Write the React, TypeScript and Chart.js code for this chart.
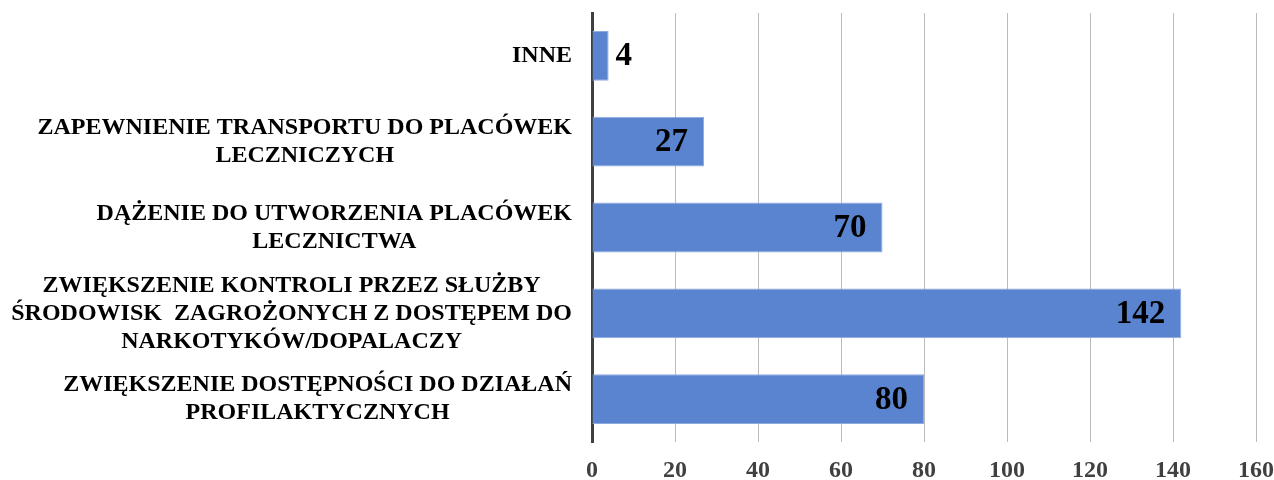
import React, { useEffect, useRef } from "react";
import { Chart, registerables } from "chart.js";

Chart.register(...registerables);

const categories: string[][] = [
  ["INNE"],
  ["ZAPEWNIENIE TRANSPORTU DO PLACÓWEK", "LECZNICZYCH"],
  ["DĄŻENIE DO UTWORZENIA PLACÓWEK", "LECZNICTWA"],
  ["ZWIĘKSZENIE KONTROLI PRZEZ SŁUŻBY", "ŚRODOWISK  ZAGROŻONYCH Z DOSTĘPEM DO", "NARKOTYKÓW/DOPALACZY"],
  ["ZWIĘKSZENIE DOSTĘPNOŚCI DO DZIAŁAŃ", "PROFILAKTYCZNYCH"],
];
const values: number[] = [4, 27, 70, 142, 80];
const xTicks: number[] = [0, 20, 40, 60, 80, 100, 120, 140, 160];

const SERIF = "'Liberation Serif', 'Times New Roman', serif";

const labelsPlugin = {
  id: "customLabels",
  afterDatasetsDraw(chart: any) {
    const ctx = chart.ctx;
    const yScale = chart.scales.y;
    const area = chart.chartArea;
    ctx.save();
    ctx.font = `bold 24px ${SERIF}`;
    ctx.fillStyle = "#000000";
    ctx.textBaseline = "middle";
    ctx.textAlign = "center";
    const lineH = 28;
    categories.forEach((lines, i) => {
      const yc = yScale.getPixelForTick(i);
      const maxW = Math.max(...lines.map((l) => ctx.measureText(l).width));
      const cx = area.left - 20 - maxW / 2;
      const y0 = yc - ((lines.length - 1) * lineH) / 2;
      lines.forEach((l, j) => ctx.fillText(l, cx, y0 + j * lineH));
    });
    ctx.font = `bold 33px ${SERIF}`;
    const meta = chart.getDatasetMeta(0);
    meta.data.forEach((bar: any, i: number) => {
      const txt = String(values[i]);
      const w = ctx.measureText(txt).width;
      const barW = bar.x - bar.base;
      if (barW > w + 24) {
        ctx.textAlign = "right";
        ctx.fillText(txt, bar.x - 16, bar.y + 1);
      } else {
        ctx.textAlign = "left";
        ctx.fillText(txt, bar.x + 7, bar.y + 1);
      }
    });
    ctx.restore();
  },
};

export default function App() {
  const ref = useRef<HTMLCanvasElement | null>(null);
  useEffect(() => {
    document.body.style.margin = "0";
    const chart = new Chart(ref.current!, {
      type: "bar",
      data: {
        labels: categories.map((c) => c.join(" ")),
        datasets: [
          {
            data: values,
            backgroundColor: "#5A84CF",
            borderColor: "#8EAADF",
            borderWidth: 1,
            categoryPercentage: 1,
            barPercentage: 0.58,
          },
        ],
      },
      options: {
        indexAxis: "y",
        animation: false,
        responsive: false,
        layout: { padding: { top: 13, right: 18, left: 0, bottom: 0 } },
        plugins: { legend: { display: false }, tooltip: { enabled: false } },
        scales: {
          x: {
            min: 0,
            max: 160,
            afterBuildTicks: (s: any) => {
              s.ticks = xTicks.map((v) => ({ value: v }));
            },
            afterFit: (s: any) => {
              s.height = 38;
              s.paddingRight = 0;
            },
            grid: { color: "#bcbcbc", lineWidth: 1, drawTicks: false },
            border: { display: false },
            ticks: {
              padding: 14,
              color: "#404040",
              font: { family: SERIF, size: 24, weight: "bold" },
            },
          },
          y: {
            afterFit: (s: any) => {
              s.width = 592;
            },
            grid: { display: false },
            border: { display: true, color: "#404040", width: 3 },
            ticks: { display: false },
          },
        },
      },
      plugins: [labelsPlugin],
    } as any);
    return () => chart.destroy();
  }, []);
  return (
    <div style={{ position: "absolute", left: 0, top: 0, width: 1274, height: 480 }}>
      <canvas ref={ref} width={1274} height={480} />
    </div>
  );
}
